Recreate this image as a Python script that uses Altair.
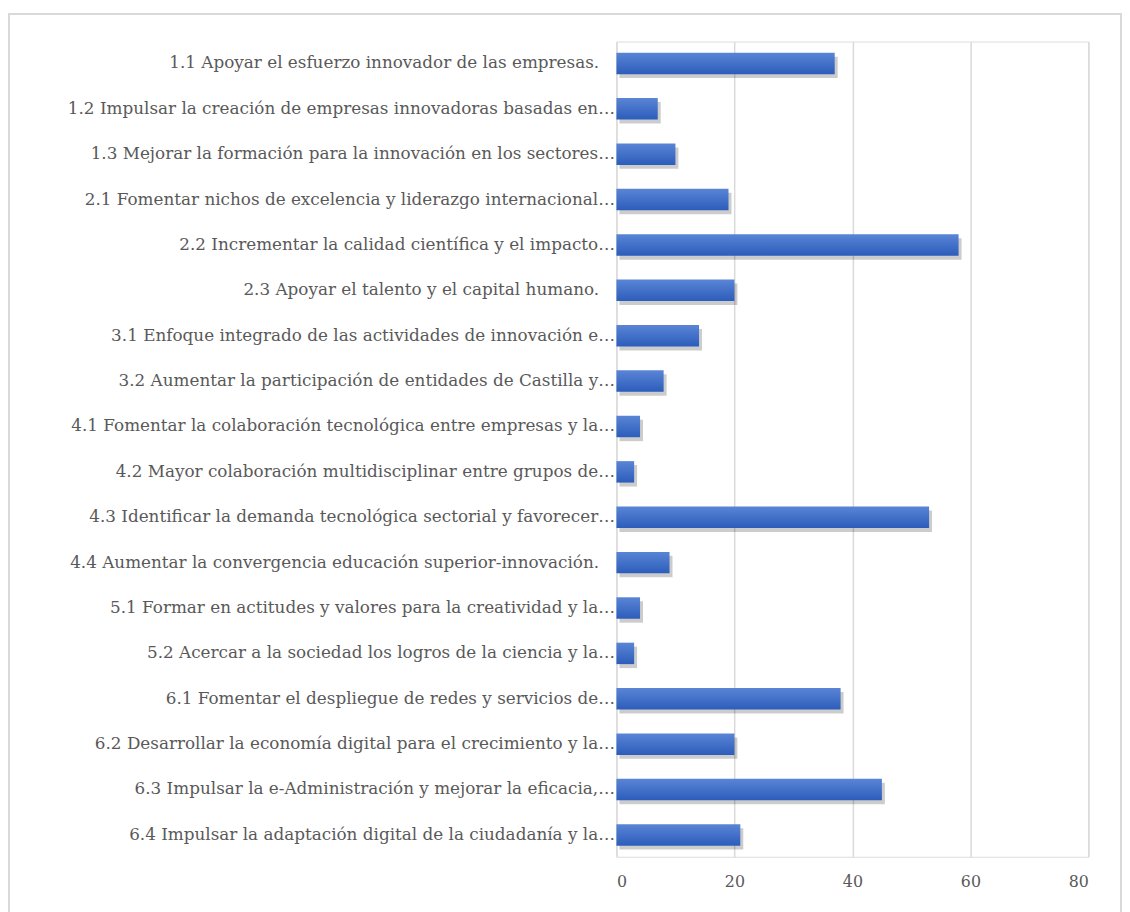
import altair as alt
import pandas as pd

categories = [
    "1.1 Apoyar el esfuerzo innovador de las empresas.",
    "1.2 Impulsar la creación de empresas innovadoras basadas en…",
    "1.3 Mejorar la formación para la innovación en los sectores…",
    "2.1 Fomentar nichos de excelencia y liderazgo internacional…",
    "2.2 Incrementar la calidad científica y el impacto…",
    "2.3 Apoyar el talento y el capital humano.",
    "3.1 Enfoque integrado de las actividades de innovación e…",
    "3.2 Aumentar la participación de entidades de Castilla y…",
    "4.1 Fomentar la colaboración tecnológica entre empresas y la…",
    "4.2 Mayor colaboración multidisciplinar entre grupos de…",
    "4.3 Identificar la demanda tecnológica sectorial y favorecer…",
    "4.4 Aumentar la convergencia educación superior-innovación.",
    "5.1 Formar en actitudes y valores para la creatividad y la…",
    "5.2 Acercar a la sociedad los logros de la ciencia y la…",
    "6.1 Fomentar el despliegue de redes y servicios de…",
    "6.2 Desarrollar la economía digital para el crecimiento y la…",
    "6.3 Impulsar la e-Administración y mejorar la eficacia,…",
    "6.4 Impulsar la adaptación digital de la ciudadanía y la…",
]
values = [37, 7, 10, 19, 58, 20, 14, 8, 4, 3, 53, 9, 4, 3, 38, 20, 45, 21]
x_ticks = [0, 20, 40, 60, 80]

df = pd.DataFrame({"cat": categories, "val": values})

W, H = 477, 824
FONT = "DejaVu Serif"

y_enc = alt.Y("cat:N", sort=None, title=None,
              scale=alt.Scale(paddingInner=0.527, paddingOuter=0.245),
              axis=alt.Axis(labelFont=FONT, labelFontSize=17,
                            labelColor="#595959", labelLimit=0,
                            labelPadding={"condition": {"test": "indexof(datum.label, '…') < 0", "value": 18}, "value": 2},
                            ticks=False, domain=False))
x_enc = alt.X("val:Q", title=None,
              scale=alt.Scale(domain=[0, 80], nice=False),
              axis=alt.Axis(values=x_ticks, labelFont=FONT,
                            labelFontSize=16, labelColor="#595959",
                            ticks=False, domain=False, grid=True,
                            gridColor="#d9d9d9", gridWidth=1.5, labelPadding=17))

shadow = alt.Chart(df).mark_bar(color="#000000", opacity=0.2, xOffset=3, yOffset=4, x2Offset=4).encode(
    x=x_enc, y=y_enc)

bars = alt.Chart(df).mark_bar(
    color=alt.Gradient(gradient="linear",
                       stops=[alt.GradientStop(color="#5a85d6", offset=0),
                              alt.GradientStop(color="#2c5dbb", offset=1)],
                       x1=0, x2=0, y1=0, y2=1)
).encode(x=x_enc, y=y_enc)

frame = alt.Chart(df).mark_rect(fill=None, stroke="#d9d9d9", strokeWidth=1.5).encode(
    x=alt.value(-614), x2=alt.value(W + 33), y=alt.value(-28), y2=alt.value(H + 60))

chart = (alt.layer(frame, shadow, bars)
         .properties(width=W, height=H, padding={"left": 0, "top": 0, "right": 0, "bottom": 0})
         .configure_view(stroke=None)
         .configure(background="white"))

chart.save("out.html", embed_options={"renderer": "svg", "actions": False})
